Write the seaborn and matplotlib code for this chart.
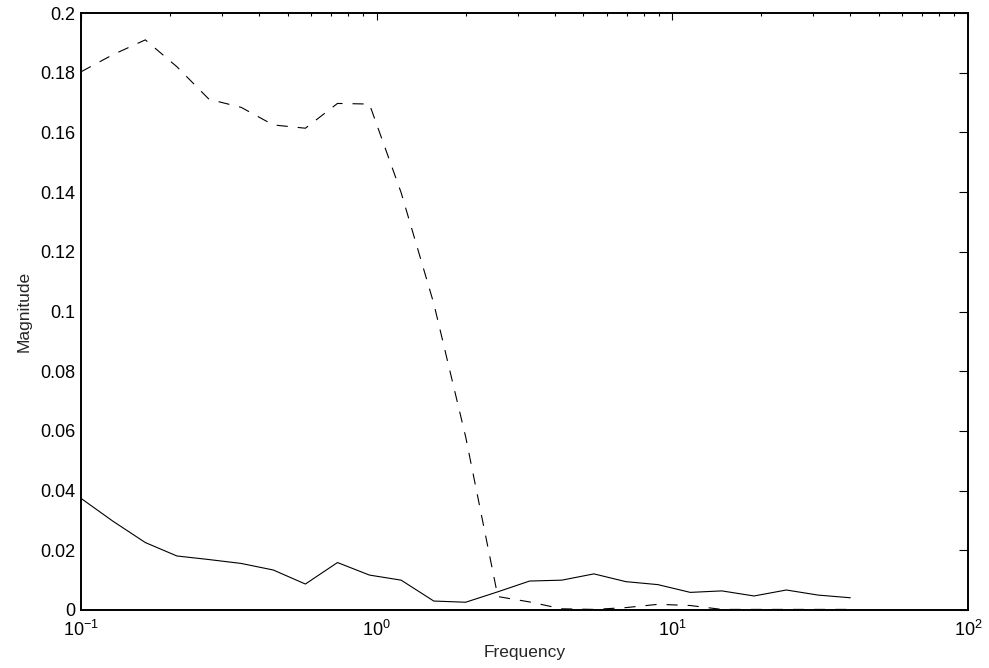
import numpy as np
import pandas as pd
import seaborn as sns
import matplotlib.pyplot as plt
from matplotlib.ticker import FuncFormatter, LogLocator

# values
freq = [0.1, 0.128, 0.165, 0.211, 0.271, 0.348, 0.447, 0.574, 0.737, 0.945,
        1.21, 1.56, 2.0, 2.57, 3.29, 4.23, 5.43, 6.96, 8.94, 11.5,
        14.7, 18.9, 24.3, 31.1, 40.0]
solid = [0.0374, 0.0298, 0.0226, 0.0181, 0.0169, 0.0156, 0.0134, 0.0087, 0.0159, 0.0117,
         0.0100, 0.0030, 0.0026, 0.0061, 0.0097, 0.0100, 0.0121, 0.0095, 0.0085, 0.0059,
         0.0064, 0.0047, 0.0067, 0.0050, 0.0041]
dashed = [0.1803, 0.1860, 0.1910, 0.1820, 0.1711, 0.1684, 0.1625, 0.1614, 0.1697, 0.1695,
          0.1398, 0.1027, 0.0580, 0.0045, 0.0027, 0.0004, 0.0002, 0.0008, 0.0019, 0.0015,
          0.0002, 0.0002, 0.0002, 0.0002, 0.0002]
yticks = [0, 0.02, 0.04, 0.06, 0.08, 0.1, 0.12, 0.14, 0.16, 0.18, 0.2]

df = pd.DataFrame({"Frequency": freq, "solid": solid, "dashed": dashed})

sns.set_style("white")
plt.rcParams['font.family'] = ['Liberation Sans', 'DejaVu Sans']
plt.rcParams['mathtext.fontset'] = 'custom'
plt.rcParams['mathtext.rm'] = 'Liberation Sans'
plt.rcParams['mathtext.it'] = 'Liberation Sans'

fig = plt.figure(figsize=(9.89, 6.68), dpi=100)
ax = fig.add_axes([81 / 989, 1 - 610 / 668, (968 - 81) / 989, (610 - 13) / 668])

sns.lineplot(data=df, x="Frequency", y="solid", ax=ax, color="black", linewidth=0.8)
sns.lineplot(data=df, x="Frequency", y="dashed", ax=ax, color="black", linewidth=0.8,
             linestyle=(0, (10, 9)))

ax.set_xscale("log")
ax.set_xlim(0.1, 100)
ax.set_ylim(0, 0.2)
ax.set_yticks(yticks)
ax.yaxis.set_major_formatter(FuncFormatter(lambda v, p: "{:g}".format(round(v, 4))))
ax.xaxis.set_minor_locator(LogLocator(base=10, subs=np.arange(2, 10)))

for s in ax.spines.values():
    s.set_linewidth(1.4)
    s.set_color("black")

ax.tick_params(which="both", direction="in", top=True, right=True, colors="black",
               labelsize=13, width=0.8)
ax.tick_params(axis="x", which="major", length=5, pad=7)
ax.tick_params(axis="x", which="minor", length=2.5)
ax.tick_params(axis="y", which="major", length=6.5, pad=4)

ax.set_xlabel("Frequency", fontsize=12.5, labelpad=4)
ax.set_ylabel("Magnitude", fontsize=12.5, labelpad=6)

fig.savefig("out.png", dpi=100)
